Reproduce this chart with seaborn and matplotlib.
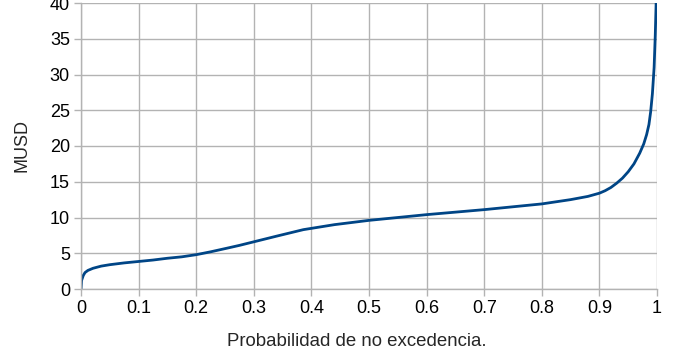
import numpy as np
import pandas as pd
import matplotlib
matplotlib.use("Agg")
import matplotlib.pyplot as plt
import seaborn as sns

# exceedance curve
prob = [0.0, 0.001, 0.004, 0.007, 0.012, 0.021, 0.035, 0.05, 0.075, 0.1, 0.125, 0.15,
        0.175, 0.2, 0.225, 0.253, 0.275, 0.3, 0.34, 0.386, 0.44, 0.5, 0.6, 0.7, 0.8,
        0.85, 0.88, 0.9, 0.91, 0.92, 0.93, 0.94, 0.95, 0.96, 0.97, 0.977, 0.982,
        0.986, 0.989, 0.992, 0.995, 0.997, 0.9985]
musd = [0.0, 1.2, 1.9, 2.3, 2.6, 2.9, 3.2, 3.4, 3.65, 3.85, 4.05, 4.3,
        4.5, 4.8, 5.2, 5.7, 6.1, 6.6, 7.4, 8.3, 9.0, 9.6, 10.4, 11.1, 11.9,
        12.5, 12.95, 13.4, 13.75, 14.2, 14.8, 15.5, 16.4, 17.5, 19.0, 20.3, 21.6,
        23.0, 24.8, 27.3, 31.0, 35.5, 40.0]

x_ticks = [0, 0.1, 0.2, 0.3, 0.4, 0.5, 0.6, 0.7, 0.8, 0.9, 1]
x_labels = ["0", "0.1", "0.2", "0.3", "0.4", "0.5", "0.6", "0.7", "0.8", "0.9", "1"]
y_ticks = [0, 5, 10, 15, 20, 25, 30, 35, 40]

df = pd.DataFrame({"prob": prob, "musd": musd})

sns.set_style("whitegrid")
plt.rcParams["font.family"] = ["Liberation Sans", "DejaVu Sans"]

fig = plt.figure(figsize=(6.74, 3.58), dpi=100)
ax = fig.add_axes([81 / 674, 69 / 358, 576 / 674, 286 / 358])

sns.lineplot(data=df, x="prob", y="musd", ax=ax, color="#004586", linewidth=2.0)

ax.set_xlim(0, 1)
ax.set_ylim(0, 40)
ax.set_xticks(x_ticks)
ax.set_xticklabels(x_labels)
ax.set_yticks(y_ticks)

ax.grid(True, color="#b3b3b3", linewidth=1.0)
for side in ["top", "right"]:
    ax.spines[side].set_visible(False)
for side in ["left", "bottom"]:
    ax.spines[side].set_color("#b3b3b3")
    ax.spines[side].set_linewidth(1.0)

ax.tick_params(axis="both", which="major", length=5, width=1, color="#b3b3b3",
               labelsize=13, labelcolor="black", pad=3, direction="out")
ax.tick_params(left=True, bottom=True)

ax.set_xlabel("Probabilidad de no excedencia.", fontsize=13.4)
ax.xaxis.set_label_coords(0.479, -0.155)
ax.set_ylabel("MUSD", fontsize=13, labelpad=14)

fig.savefig("out.png", dpi=100)
